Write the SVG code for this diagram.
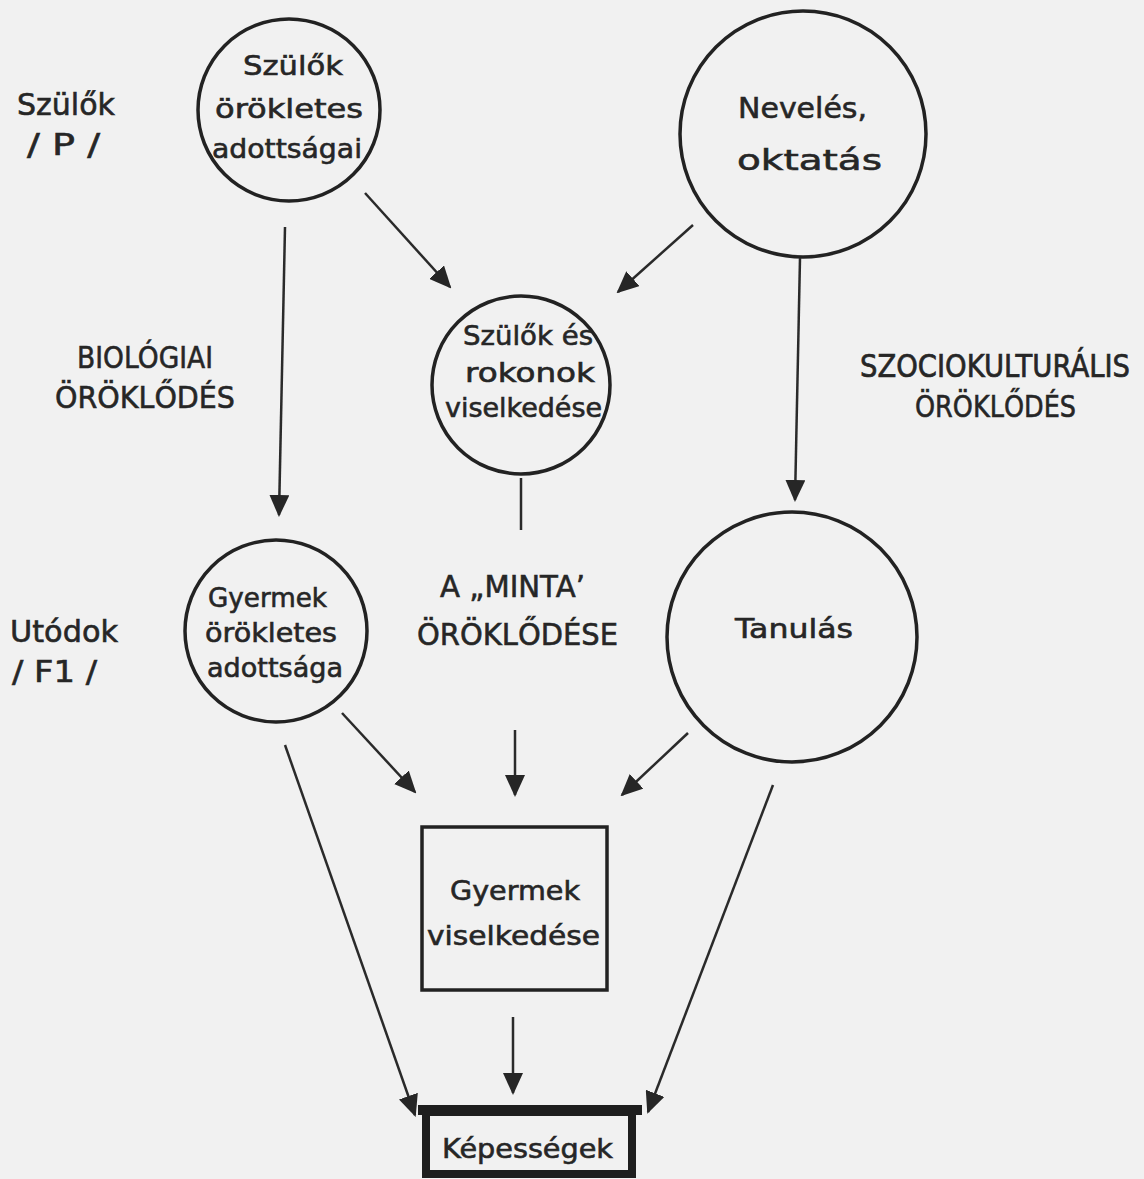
<svg xmlns="http://www.w3.org/2000/svg" width="1144" height="1179" viewBox="0 0 1144 1179">
<style>
text{font-family:"DejaVu Sans","Liberation Sans",sans-serif;fill:#262626;stroke:#262626;stroke-width:0.6;}
.t{font-size:27px;}
.c{font-size:31px;}
.node{fill:none;stroke:#222;stroke-width:3.5;}
.conn line{stroke:#2a2a2a;stroke-width:2.5;fill:none;}
</style>
<defs>
<marker id="ah" markerUnits="userSpaceOnUse" markerWidth="22" markerHeight="20" refX="20" refY="10" orient="auto">
<path d="M0,0 L22,10 L0,20 z" fill="#262626"/>
</marker>
</defs>
<rect x="0" y="0" width="1144" height="1179" fill="#f1f1f1"/>

<g id="labels">
<text class="c" x="17" y="115" textLength="98" lengthAdjust="spacingAndGlyphs">Szülők</text>
<text class="c" x="27" y="155" textLength="73" lengthAdjust="spacingAndGlyphs">/ P /</text>
<text class="c" x="10" y="642" textLength="108" lengthAdjust="spacingAndGlyphs">Utódok</text>
<text class="c" x="12" y="682" textLength="85" lengthAdjust="spacingAndGlyphs">/ F1 /</text>
<text class="c" x="77" y="368" textLength="136" lengthAdjust="spacingAndGlyphs">BIOLÓGIAI</text>
<text class="c" x="55" y="408" textLength="180" lengthAdjust="spacingAndGlyphs">ÖRÖKLŐDÉS</text>
<text transform="translate(860,377) scale(1,1.2)" x="0" y="0" style="font-size:26px" textLength="270" lengthAdjust="spacingAndGlyphs">SZOCIOKULTURÁLIS</text>
<text class="c" x="915" y="417" textLength="161" lengthAdjust="spacingAndGlyphs">ÖRÖKLŐDÉS</text>
<text class="c" x="440" y="597" textLength="145" lengthAdjust="spacingAndGlyphs">A „MINTA’</text>
<text class="c" x="417" y="645" textLength="201" lengthAdjust="spacingAndGlyphs">ÖRÖKLŐDÉSE</text>
</g>

<g id="szulok-adottsagai">
<circle class="node" cx="289" cy="110" r="91"/>
<text class="t" x="243" y="75" textLength="100" lengthAdjust="spacingAndGlyphs">Szülők</text>
<text class="t" x="215" y="118" textLength="148" lengthAdjust="spacingAndGlyphs">örökletes</text>
<text class="t" x="212" y="158" textLength="150" lengthAdjust="spacingAndGlyphs">adottságai</text>
</g>

<g id="neveles">
<circle class="node" cx="803" cy="134" r="123"/>
<text class="t" x="738" y="118" textLength="129" lengthAdjust="spacingAndGlyphs" style="font-size:29px">Nevelés,</text>
<text class="t" x="737" y="170" textLength="145" lengthAdjust="spacingAndGlyphs" style="font-size:29px">oktatás</text>
</g>

<g id="szulok-viselkedese">
<circle class="node" cx="521" cy="385" r="89"/>
<text class="t" x="463" y="345" textLength="130" lengthAdjust="spacingAndGlyphs">Szülők és</text>
<text class="t" x="465" y="382" textLength="130" lengthAdjust="spacingAndGlyphs">rokonok</text>
<text class="t" x="445" y="417" textLength="157" lengthAdjust="spacingAndGlyphs">viselkedése</text>
</g>

<g id="gyermek-adottsaga">
<circle class="node" cx="276" cy="631" r="91"/>
<text class="t" x="208" y="607" textLength="119" lengthAdjust="spacingAndGlyphs">Gyermek</text>
<text class="t" x="205" y="642" textLength="132" lengthAdjust="spacingAndGlyphs">örökletes</text>
<text class="t" x="207" y="677" textLength="136" lengthAdjust="spacingAndGlyphs">adottsága</text>
</g>

<g id="tanulas">
<circle class="node" cx="792" cy="637" r="125"/>
<text class="t" x="735" y="638" textLength="118" lengthAdjust="spacingAndGlyphs">Tanulás</text>
</g>

<g id="gyermek-viselkedese">
<rect class="node" x="422" y="827" width="185" height="163"/>
<text class="t" x="450" y="900" textLength="130" lengthAdjust="spacingAndGlyphs">Gyermek</text>
<text class="t" x="427" y="945" textLength="173" lengthAdjust="spacingAndGlyphs">viselkedése</text>
</g>

<g id="kepessegek">
<rect x="426" y="1112" width="206" height="62" fill="none" stroke="#1e1e1e" stroke-width="8"/>
<line x1="418" y1="1110" x2="642" y2="1110" stroke="#1e1e1e" stroke-width="10"/>
<text class="t" x="442" y="1158" textLength="171" lengthAdjust="spacingAndGlyphs">Képességek</text>
</g>

<g id="connectors" class="conn">
<line x1="285" y1="227" x2="279" y2="515" marker-end="url(#ah)"/>
<line x1="365" y1="193" x2="450" y2="287" marker-end="url(#ah)"/>
<line x1="693" y1="225" x2="618" y2="292" marker-end="url(#ah)"/>
<line x1="800" y1="258" x2="795" y2="500" marker-end="url(#ah)"/>
<line x1="521" y1="478" x2="521" y2="530"/>
<line x1="342" y1="713" x2="415" y2="792" marker-end="url(#ah)"/>
<line x1="515" y1="730" x2="515" y2="795" marker-end="url(#ah)"/>
<line x1="688" y1="733" x2="622" y2="795" marker-end="url(#ah)"/>
<line x1="285" y1="745" x2="415" y2="1115" marker-end="url(#ah)"/>
<line x1="773" y1="785" x2="648" y2="1112" marker-end="url(#ah)"/>
<line x1="513" y1="1017" x2="513" y2="1093" marker-end="url(#ah)"/>
</g>
</svg>
